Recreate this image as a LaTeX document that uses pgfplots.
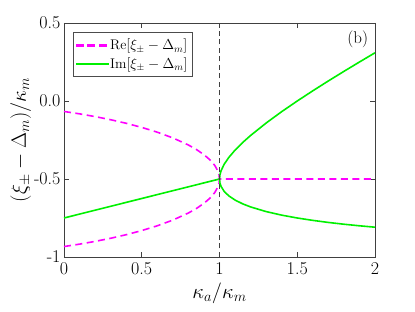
\documentclass[border=0pt]{standalone}
\usepackage{pgfplots}
\pgfplotsset{compat=1.18}
\definecolor{mymag}{RGB}{255,0,255}
\definecolor{mygreen}{RGB}{0,240,0}
\begin{document}
\begin{tikzpicture}
\useasboundingbox (-64pt,-55pt) rectangle (351pt,257pt);
\begin{axis}[
  scale only axis, width=311pt, height=234pt,
  xmin=0, xmax=2, ymin=-1, ymax=0.5,
  xtick={0,0.5,1,1.5,2}, xticklabels={0,0.5,1,1.5,2},
  ytick={-1,-0.5,0,0.5}, yticklabels={-1,-0.5,0.0,0.5},
  tick align=inside, major tick length=5pt,
  axis line style={black!75, line width=0.8pt},
  tick style={black!75, line width=0.6pt},
  ticklabel style={font=\fontsize{18}{20}\selectfont},
  xticklabel style={yshift=-2pt},
  xlabel={$\kappa_a/\kappa_m$},
  ylabel={$(\xi_\pm-\Delta_m)/\kappa_m$},
  label style={font=\fontsize{21}{24}\selectfont},
  xlabel style={yshift=-1pt},
  ylabel style={yshift=-4pt},
  legend cell align=left,
  legend style={at={(0.028,0.962)}, anchor=north west, draw=black!70, font=\fontsize{14}{17}\selectfont, row sep=2pt, inner xsep=3pt, inner ysep=5pt},
  clip=true,
]
\addlegendimage{legend image code/.code={\fill[mymag] (0pt,-0.8pt) rectangle (7pt,0.8pt) (11.5pt,-0.8pt) rectangle (18.5pt,0.8pt) (23pt,-0.8pt) rectangle (30pt,0.8pt); \path (31.9pt,0pt);}}
\addlegendentry{Re$[\xi_\pm-\Delta_m]$}
\addlegendimage{legend image code/.code={\fill[mygreen] (0pt,-0.8pt) rectangle (31.9pt,0.8pt);}}
\addlegendentry{Im$[\xi_\pm-\Delta_m]$}
\addplot[mymag, line width=1.6pt, dash pattern=on 7pt off 4.5pt, forget plot] coordinates {
(0,-0.0670)(0.1,-0.0824)(0.2,-0.1)(0.3,-0.12)(0.4,-0.1429)(0.5,-0.1693)(0.6,-0.2)(0.7,-0.2366)(0.8,-0.2821)(0.85,-0.31)(0.9,-0.3439)(0.94,-0.3784)(0.97,-0.4137)(0.99,-0.4501)(0.997,-0.4726)(1,-0.5)(2,-0.5)};
\addplot[mygreen, line width=1.6pt, forget plot] coordinates {(0,-0.75)(1,-0.5)};
\addplot[mymag, line width=1.6pt, dash pattern=on 7pt off 4.5pt, forget plot] coordinates {
(0,-0.9330)(0.1,-0.9176)(0.2,-0.9)(0.3,-0.88)(0.4,-0.8571)(0.5,-0.8307)(0.6,-0.8)(0.7,-0.7634)(0.8,-0.7179)(0.85,-0.69)(0.9,-0.6561)(0.94,-0.6216)(0.97,-0.5863)(0.99,-0.5499)(0.997,-0.5274)(1,-0.5)};
\addplot[mygreen, line width=1.6pt, forget plot] coordinates {
(1,-0.5)(1.003,-0.4719)(1.01,-0.4474)(1.03,-0.4056)(1.06,-0.3616)(1.1,-0.3149)(1.15,-0.2653)(1.2,-0.2209)(1.3,-0.1411)(1.4,-0.0683)(1.5,0)(1.6,0.0653)(1.7,0.1285)(1.8,0.1899)(1.9,0.25)(2,0.3090)};
\addplot[mygreen, line width=1.6pt, forget plot] coordinates {
(1,-0.5)(1.003,-0.5266)(1.01,-0.5476)(1.03,-0.5794)(1.06,-0.6084)(1.1,-0.6351)(1.15,-0.6597)(1.2,-0.6791)(1.3,-0.7089)(1.4,-0.7317)(1.5,-0.75)(1.6,-0.7653)(1.7,-0.7785)(1.8,-0.7899)(1.9,-0.8)(2,-0.8090)};
\addplot[black!75, line width=0.8pt, dash pattern=on 5pt off 3.5pt, forget plot] coordinates {(1,-1)(1,0.5)};
\node[anchor=north east, font=\fontsize{17}{19}\selectfont, inner sep=2pt] at (rel axis cs:0.985,0.975) {(b)};
\end{axis}
\end{tikzpicture}
\end{document}
